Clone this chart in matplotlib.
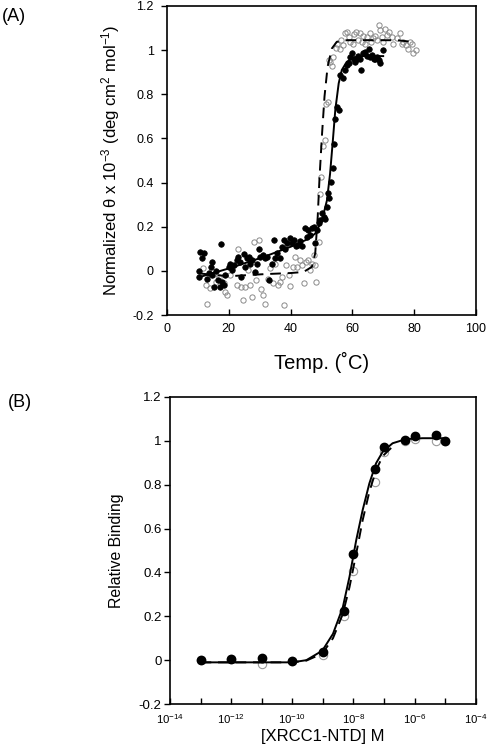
import numpy as np
import matplotlib
matplotlib.use("Agg")
import matplotlib.pyplot as plt
from matplotlib.ticker import FixedLocator, NullLocator

plt.rcParams['font.family'] = ['Liberation Sans', 'DejaVu Sans']
plt.rcParams['mathtext.fontset'] = 'custom'
plt.rcParams['mathtext.rm'] = 'Liberation Sans'
plt.rcParams['mathtext.it'] = 'Liberation Sans'
plt.rcParams['mathtext.bf'] = 'Liberation Sans'

# ---- panel A: thermal melt (filled = solid fit, open = dashed fit)
temp_filled = [10.3, 10.8, 11.9, 11.4, 10.5, 12.8, 13.5, 14.1, 14.6, 14.4, 15.2, 16.0, 16.4, 17.1, 17.5,
               17.8, 18.4, 18.7, 20.0, 20.5, 21.1, 21.8, 22.5, 22.9, 23.6, 24.1, 24.8, 25.4, 25.9, 26.5,
               27.0, 27.6, 28.4, 29.2, 29.7, 30.2, 31.1, 31.8, 32.4, 32.9, 34.0, 34.5, 34.9, 35.6, 36.5,
               37.2, 37.8, 38.3, 38.8, 39.7, 40.4, 41.0, 41.9, 42.4, 43.2, 43.7, 44.8, 45.3, 45.8, 46.4,
               46.9, 47.7, 48.0, 48.5, 49.1, 49.6, 50.2, 50.7, 51.2, 51.8, 52.1, 52.5, 53.1, 53.6, 54.2,
               54.5, 55.0, 55.6, 56.1, 57.0, 57.7, 58.2, 58.8, 59.3, 59.8, 60.4, 60.9, 61.5, 62.0, 62.5,
               62.9, 63.6, 64.2, 64.7, 65.3, 65.8, 66.3, 66.9, 67.4, 68.0, 68.5, 69.0, 70.1]
theta_filled = [0.0, 0.086, 0.079, 0.056, -0.027, -0.035, -0.009, 0.018, 0.041, -0.017, -0.073, 0.0, -0.042,
                -0.073, 0.121, -0.05, -0.065, -0.02, 0.018, 0.033, 0.006, 0.026, 0.048, 0.063, 0.041,
                -0.027, 0.076, 0.018, 0.056, 0.063, 0.033, 0.048, -0.005, 0.03, 0.101, 0.063, 0.071,
                0.056, 0.063, -0.042, 0.033, 0.142, 0.056, 0.079, 0.056, 0.109, 0.142, 0.101, 0.124,
                0.151, 0.127, 0.139, 0.112, 0.119, 0.136, 0.112, 0.196, 0.154, 0.184, 0.162, 0.192,
                0.199, 0.127, 0.184, 0.215, 0.23, 0.26, 0.245, 0.237, 0.29, 0.354, 0.328, 0.403, 0.464,
                0.574, 0.69, 0.743, 0.728, 0.887, 0.876, 0.909, 0.932, 0.943, 0.97, 0.985, 0.958, 0.947,
                0.962, 0.973, 0.958, 0.912, 0.985, 0.992, 0.973, 1.003, 0.967, 0.977, 0.958, 0.962,
                0.97, 0.955, 0.94, 1.0]

temp_open = [11.6, 12.5, 13.0, 13.9, 15.2, 16.0, 16.8, 18.4, 18.9, 19.5, 20.5, 21.1, 22.5, 22.9, 23.8,
             24.6, 25.4, 26.1, 26.8, 27.5, 28.1, 28.9, 29.7, 30.4, 31.1, 31.8, 32.6, 33.5, 34.3, 35.1,
             35.8, 36.5, 37.2, 38.0, 38.6, 39.4, 39.9, 40.8, 41.5, 42.1, 43.0, 43.7, 44.4, 45.1, 45.8,
             46.4, 46.9, 47.5, 48.0, 48.4, 49.1, 49.4, 49.8, 50.5, 51.0, 51.6, 52.0, 52.3, 52.8, 53.4,
             53.9, 54.8, 55.2, 55.9, 56.3, 57.0, 57.7, 58.2, 58.8, 59.3, 60.2, 60.6, 61.2, 62.0, 62.5,
             63.1, 63.6, 64.2, 64.9, 65.6, 66.0, 66.6, 67.4, 68.0, 68.5, 69.0, 69.5, 70.1, 70.6, 71.2,
             72.0, 72.8, 73.3, 74.4, 75.3, 76.0, 76.5, 77.4, 78.2, 78.7, 79.2, 79.8, 80.6]
theta_open = [0.015, -0.065, -0.148, -0.077, -0.012, -0.05, -0.027, -0.057, -0.095, -0.11, -0.02, 0.011,
              -0.065, 0.101, -0.073, -0.133, -0.073, 0.003, -0.065, -0.118, 0.131, -0.042, 0.139, -0.08,
              -0.11, -0.148, -0.035, 0.011, -0.057, 0.033, -0.065, -0.05, -0.027, -0.156, 0.026, -0.02,
              -0.068, 0.018, 0.063, 0.018, 0.048, 0.026, -0.057, 0.041, 0.048, 0.003, 0.033, 0.071,
              0.026, -0.05, 0.131, 0.35, 0.426, 0.566, 0.595, 0.758, 0.766, 0.955, 0.947, 0.927, 0.97,
              1.008, 1.03, 1.003, 1.048, 1.023, 1.076, 1.083, 1.06, 1.038, 1.03, 1.073, 1.083, 1.048,
              1.076, 1.038, 1.063, 1.03, 1.06, 1.076, 1.038, 1.053, 1.063, 1.045, 1.113, 1.091, 1.06,
              1.038, 1.098, 1.068, 1.083, 1.06, 1.03, 1.053, 1.076, 1.03, 1.038, 1.023, 1.003, 1.038,
              1.03, 0.988, 1.0]

# fitted curves
fit_solid_t = [10.8, 20.0, 31.3, 40.0, 45.3, 48.0, 50.2, 51.8, 52.8, 53.7, 54.5, 55.6, 56.6, 58.2, 60.4, 63.6, 70.0]
fit_solid_v = [-0.027, 0.011, 0.063, 0.109, 0.142, 0.169, 0.23, 0.32, 0.44, 0.59, 0.73, 0.85, 0.91, 0.947, 0.967, 0.973, 0.973]
fit_dash_t = [10.8, 16.2, 20.5, 31.3, 39.9, 44.2, 46.9, 48.0, 48.8, 49.4, 50.2, 51.0, 52.0, 53.4, 55.0, 58.2, 63.6, 74.4, 79.2]
fit_dash_v = [-0.012, -0.02, -0.024, -0.015, -0.01, -0.005, 0.018, 0.08, 0.245, 0.426, 0.62, 0.79, 0.925, 1.008, 1.038, 1.045, 1.045, 1.045, 1.038]

# ---- panel B: binding titration
conc = [1e-13, 1e-12, 1e-11, 1e-10, 1e-9, 5e-9, 1e-8, 5e-8, 1e-7, 5e-7, 1e-6, 5e-6, 1e-5]
bind_filled = [0.0, 0.005, 0.008, -0.003, 0.035, 0.223, 0.482, 0.872, 0.974, 1.002, 1.023, 1.027, 1.0]
bind_open = [0.0, 0.005, -0.018, -0.003, 0.024, 0.2, 0.406, 0.814, 0.951, 1.0, 1.008, 1.0, 1.0]

fitb_solid_logc = [-13.0, -10.0, -9.54, -9.02, -8.67, -8.35, -8.13, -7.91, -7.7, -7.48, -7.26, -7.04, -6.72, -6.28, -5.74, -5.03]
fitb_solid_v = [-0.01, -0.01, 0.0, 0.043, 0.12, 0.24, 0.38, 0.547, 0.684, 0.806, 0.898, 0.951, 0.989, 1.008, 1.012, 1.012]
fitb_dash_logc = [-13.0, -10.0, -9.54, -9.02, -8.67, -8.35, -8.13, -7.91, -7.7, -7.48, -7.26, -7.04, -6.72]
fitb_dash_v = [-0.01, -0.01, -0.002, 0.03, 0.10, 0.21, 0.333, 0.486, 0.638, 0.768, 0.867, 0.931, 0.974]

yticks = [-0.2, 0, 0.2, 0.4, 0.6, 0.8, 1.0, 1.2]
ytick_labels = ['-0.2', '0', '0.2', '0.4', '0.6', '0.8', '1', '1.2']

fig = plt.figure(figsize=(4.87, 7.5), dpi=100)
axA = fig.add_axes([0.343, 0.58, 0.634, 0.412])
axB = fig.add_axes([0.349, 0.0613, 0.628, 0.4094])

dash = (0, (5.5, 3.5))

# panel A
axA.plot(temp_open, theta_open, 'o', ms=3.8, mfc='none', mec='#8a8a8a', mew=0.7)
axA.plot(temp_filled, theta_filled, 'o', ms=4, mfc='black', mec='black', mew=0.5)
axA.plot(fit_dash_t, fit_dash_v, color='black', lw=1.4, linestyle=dash)
axA.plot(fit_solid_t, fit_solid_v, color='black', lw=1.4)
axA.set_xlim(0, 100)
axA.set_ylim(-0.2, 1.2)
axA.set_xticks([0, 20, 40, 60, 80, 100])
axA.set_yticks(yticks)
axA.set_yticklabels(ytick_labels)
axA.tick_params(axis='x', direction='in', length=4, width=1, labelsize=9, pad=6)
axA.tick_params(axis='y', direction='out', length=4.5, width=1, labelsize=9, pad=5)
axA.set_xlabel('Temp. (˚C)', fontsize=14.5)
axA.xaxis.set_label_coords(0.5, -0.118)
axA.set_ylabel('Normalized θ x 10$^{-3}$ (deg cm$^{2}$ mol$^{-1}$)', fontsize=12)
axA.yaxis.set_label_coords(-0.145, 0.5)

# panel B
axB.plot(conc, bind_open, 'o', ms=6, mfc='none', mec='#9a9a9a', mew=0.8)
axB.plot(conc, bind_filled, 'o', ms=6, mfc='black', mec='black')
axB.plot(10 ** np.array(fitb_dash_logc), fitb_dash_v, color='black', lw=1.4, linestyle=dash)
axB.plot(10 ** np.array(fitb_solid_logc), fitb_solid_v, color='black', lw=1.4)
axB.set_xscale('log')
axB.set_xlim(1e-14, 1e-4)
axB.set_ylim(-0.2, 1.2)
axB.xaxis.set_major_locator(FixedLocator([10.0 ** k for k in range(-14, -3)]))
axB.xaxis.set_minor_locator(NullLocator())
axB.set_xticklabels(['$10^{%d}$' % k if k % 2 == 0 else '' for k in range(-14, -3)])
axB.set_yticks(yticks)
axB.set_yticklabels(ytick_labels)
axB.tick_params(axis='x', direction='in', length=4, width=1, labelsize=8.2, pad=6)
axB.tick_params(axis='y', direction='out', length=4.5, width=1, labelsize=9.5, pad=1.5)
axB.set_xlabel('[XRCC1-NTD] M', fontsize=12, labelpad=2)
axB.set_ylabel('Relative Binding', fontsize=11.4)
axB.yaxis.set_label_coords(-0.15, 0.5)

for ax in (axA, axB):
    for sp in ax.spines.values():
        sp.set_linewidth(1.2)

fig.text(0.003, 0.978, '(A)', fontsize=13, va='center', ha='left')
fig.text(0.016, 0.463, '(B)', fontsize=13, va='center', ha='left')

fig.savefig('out.png', dpi=100)
